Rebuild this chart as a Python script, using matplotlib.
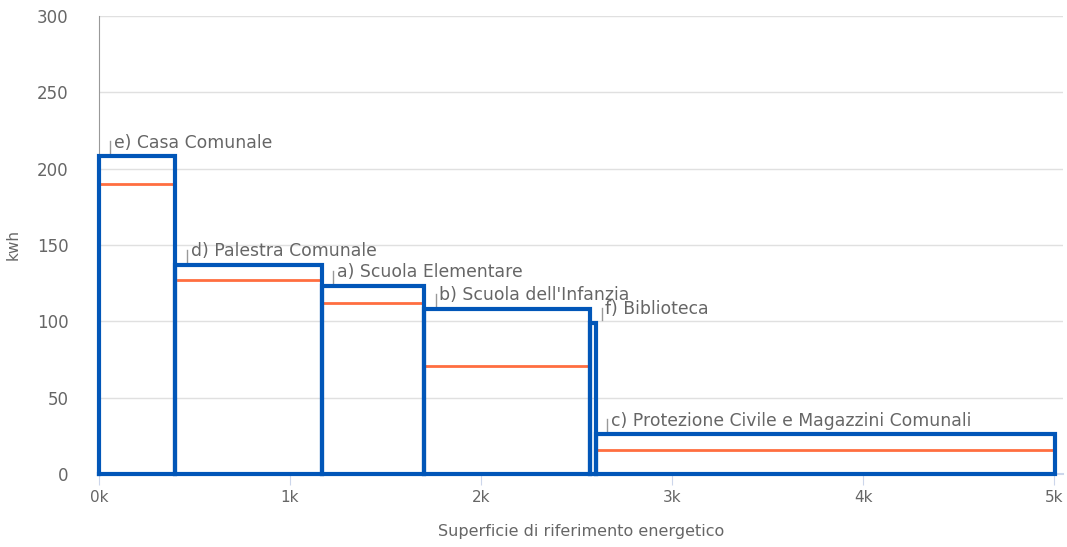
import matplotlib.pyplot as plt
import numpy as np

# edifici, superfici e consumi
names = ['e) Casa Comunale', 'd) Palestra Comunale', 'a) Scuola Elementare',
         "b) Scuola dell'Infanzia", 'f) Biblioteca',
         'c) Protezione Civile e Magazzini Comunali']
area = [400, 767, 535, 869, 31, 2403]
kwh = [208, 137, 123, 108, 99, 26]
target = [190, 127, 112, 71, None, 16]

blue = '#0156b8'
orange = '#ff6e40'
grey = '#666666'

fig = plt.figure(figsize=(10.67, 5.47), dpi=100)
ax = fig.add_axes([99 / 1067, 73 / 547, 964 / 1067, 458 / 547])

left = np.concatenate([[0], np.cumsum(area)[:-1]])
for x0, w, h, t, name in zip(left, area, kwh, target, names):
    ax.plot([x0, x0, x0 + w, x0 + w, x0], [0, h, h, 0, 0], color=blue, lw=3,
            solid_joinstyle='miter', zorder=3, clip_on=False)
    if t is not None:
        ax.plot([x0 + 12, x0 + w - 12], [t, t], color=orange, lw=2, zorder=2)
    ax.plot([x0 + 60, x0 + 60], [h + 2, h + 10], color='#999999', lw=1)
    ax.text(x0 + 80, h + 9, name, color=grey, fontsize=12.4, va='center', ha='left')

ax.set_xlim(0, 5047)
ax.set_ylim(0, 300)
ax.set_yticks(np.arange(0, 301, 50))
ax.set_xticks(np.arange(0, 5001, 1000))
ax.set_xticklabels([f'{i}k' for i in range(6)])
ax.grid(axis='y', color='#e0e0e0', lw=1)
ax.set_axisbelow(True)
for s in ['top', 'right']:
    ax.spines[s].set_visible(False)
ax.spines['left'].set_color('#999999')
ax.spines['bottom'].set_color('#ccd6eb')
ax.spines['bottom'].set_linewidth(1.5)
ax.tick_params(axis='y', length=0, pad=22, labelcolor=grey, labelsize=12)
ax.tick_params(axis='x', length=8, color='#ccd6eb', labelcolor=grey, labelsize=11)
ax.set_ylabel('kwh', color=grey, fontsize=11, labelpad=12)
ax.set_xlabel('Superficie di riferimento energetico', color=grey, fontsize=11.5, labelpad=14)

fig.savefig('out.png', dpi=100)
